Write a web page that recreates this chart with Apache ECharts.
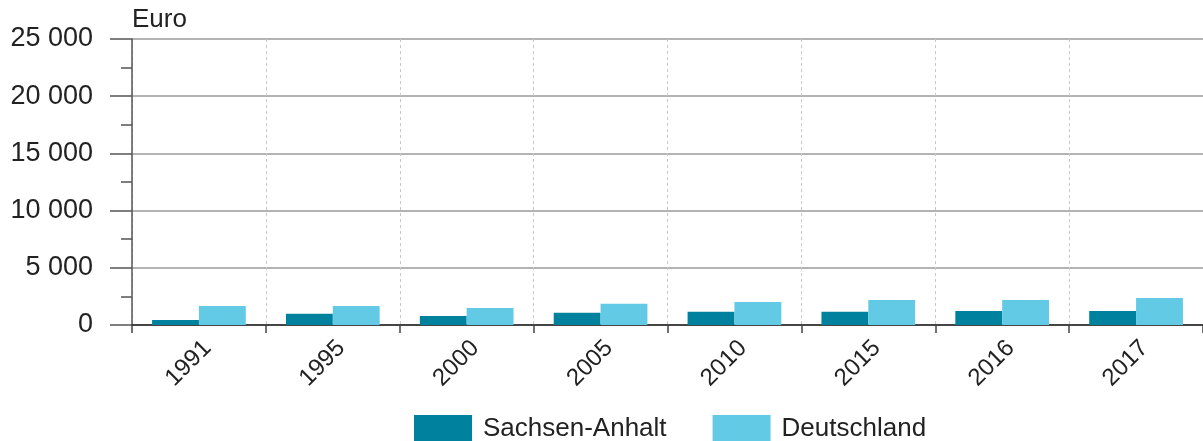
<!DOCTYPE html>
<html>
<head>
<meta charset="utf-8">
<script src="https://cdn.jsdelivr.net/npm/echarts@6/dist/echarts.min.js"></script>
<style>
  html, body { margin: 0; padding: 0; background: #fff; }
  #chart { width: 1203px; height: 441px; }
</style>
</head>
<body>
<div id="chart"></div>
<script>
// Jahre auf der Kategorienachse
const years = ['1991', '1995', '2000', '2005', '2010', '2015', '2016', '2017'];
// Werte in Euro
const sachsenAnhalt = [440, 990, 790, 1075, 1160, 1160, 1225, 1225];
const deutschland = [1660, 1660, 1490, 1860, 2010, 2185, 2185, 2360];
// Beschriftungen
const seriesNames = ['Sachsen-Anhalt', 'Deutschland'];
const unitLabel = 'Euro';

const FONT = '"Liberation Sans", Arial, sans-serif';
const TEXT = '#222';

const chart = echarts.init(document.getElementById('chart'), null, { renderer: 'canvas' });

chart.setOption({
  animation: false,
  textStyle: { fontFamily: FONT },
  grid: { left: 132, right: 0, top: 39, bottom: 116, containLabel: false },
  legend: {
    left: 414,
    top: 415,
    padding: 0,
    itemWidth: 58,
    itemHeight: 28,
    itemGap: 46,
    icon: 'rect',
    textStyle: { fontFamily: FONT, fontSize: 26, color: TEXT, padding: [0, 0, 0, 6] },
    data: seriesNames
  },
  xAxis: {
    type: 'category',
    data: years,
    axisLine: { show: true, lineStyle: { color: '#222', width: 1.5 } },
    axisTick: { show: true, length: 8, lineStyle: { color: '#444', width: 1.5 } },
    splitLine: { show: true, lineStyle: { color: '#c8c8c8', type: [3, 3], width: 1 } },
    axisLabel: {
      rotate: 45,
      margin: 11,
      verticalAlign: 'top',
      fontFamily: FONT,
      fontSize: 24,
      color: TEXT
    }
  },
  yAxis: {
    type: 'value',
    min: 0,
    max: 25000,
    interval: 5000,
    name: unitLabel,
    nameLocation: 'end',
    nameGap: 6,
    nameTextStyle: { fontFamily: FONT, fontSize: 26, color: TEXT, align: 'left', verticalAlign: 'bottom' },
    axisLine: { show: true, lineStyle: { color: '#555', width: 1.5 } },
    axisTick: { show: true, length: 22, lineStyle: { color: '#555', width: 1.5 } },
    minorTick: { show: true, splitNumber: 2, length: 11, lineStyle: { color: '#555', width: 1.5 } },
    splitLine: { show: true, lineStyle: { color: '#9a9a9a', width: 1.5 } },
    axisLabel: {
      margin: 39,
      fontFamily: FONT,
      fontSize: 27,
      color: TEXT,
      formatter: v => String(v).replace(/\B(?=(\d{3})+(?!\d))/g, ' ')
    }
  },
  series: [
    {
      name: seriesNames[0],
      type: 'bar',
      data: sachsenAnhalt,
      barGap: '0%',
      barCategoryGap: '30%',
      itemStyle: { color: '#00829e' }
    },
    {
      name: seriesNames[1],
      type: 'bar',
      data: deutschland,
      barGap: '0%',
      barCategoryGap: '30%',
      itemStyle: { color: '#63cae5' }
    }
  ]
});
</script>
</body>
</html>
